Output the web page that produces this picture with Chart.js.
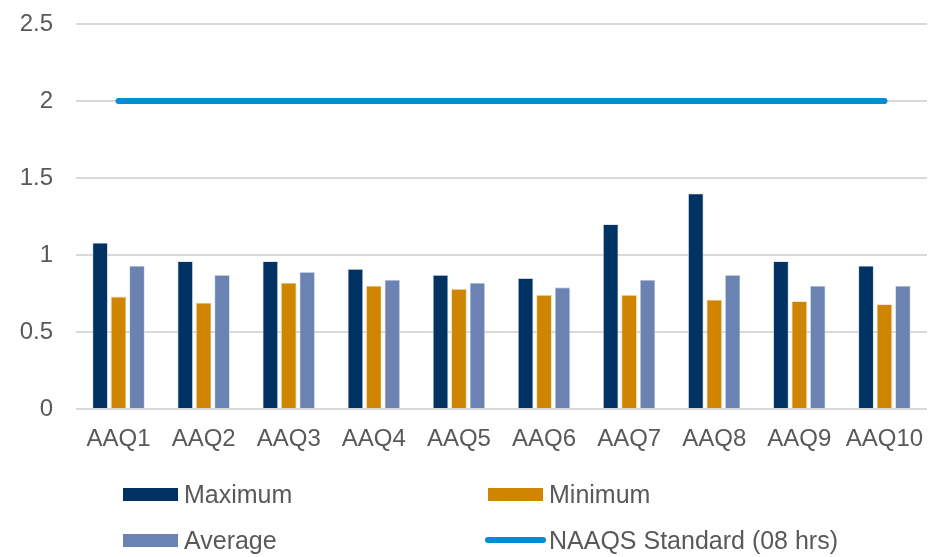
<!DOCTYPE html>
<html>
<head>
<meta charset="utf-8">
<script src="https://cdn.jsdelivr.net/npm/chart.js@4/dist/chart.umd.min.js"></script>
<style>
  html, body { margin: 0; padding: 0; background: #fff; }
  #wrap { position: relative; width: 929px; height: 557px; }
  #c { position: absolute; left: 0; top: 0; }
  .leg { position: absolute; display: flex; align-items: center; font-family: "Liberation Sans", Arial, sans-serif; font-size: 25px; color: #595959; white-space: nowrap; }
  .sw { display: inline-block; }
</style>
</head>
<body>
<div id="wrap">
  <canvas id="c" width="929" height="557"></canvas>
  <div id="legend"></div>
</div>
<script>
const categories = ['AAQ1','AAQ2','AAQ3','AAQ4','AAQ5','AAQ6','AAQ7','AAQ8','AAQ9','AAQ10'];
const maximum = [1.08, 0.96, 0.96, 0.91, 0.87, 0.85, 1.20, 1.40, 0.96, 0.93];
const minimum = [0.73, 0.69, 0.82, 0.80, 0.78, 0.74, 0.74, 0.71, 0.70, 0.68];
const average = [0.93, 0.87, 0.89, 0.84, 0.82, 0.79, 0.84, 0.87, 0.80, 0.80];
const naaqs   = [2, 2, 2, 2, 2, 2, 2, 2, 2, 2];
const yTicks  = [0, 0.5, 1, 1.5, 2, 2.5];

const FONT = '"Liberation Sans", Arial, sans-serif';
const TXT = '#595959';

const chart = new Chart(document.getElementById('c'), {
  data: {
    labels: categories,
    datasets: [
      { type: 'bar', label: 'Maximum', data: maximum, backgroundColor: '#003363', borderColor: '#c9d3e3', borderWidth: 0.8, categoryPercentage: 0.65, barPercentage: 0.84, order: 2 },
      { type: 'bar', label: 'Minimum', data: minimum, backgroundColor: '#D08500', borderColor: '#f0d8a8', borderWidth: 0.8, categoryPercentage: 0.65, barPercentage: 0.84, order: 2 },
      { type: 'bar', label: 'Average', data: average, backgroundColor: '#6B83B3', borderColor: '#d3dbea', borderWidth: 0.8, categoryPercentage: 0.65, barPercentage: 0.84, order: 2 },
      { type: 'line', label: 'NAAQS Standard (08 hrs)', data: naaqs, borderColor: '#008DD6', backgroundColor: '#008DD6', borderWidth: 6, pointRadius: 0, borderCapStyle: 'round', fill: false, order: 1 }
    ]
  },
  options: {
    responsive: false,
    animation: false,
    layout: { autoPadding: false, padding: { top: 24, right: 2, left: 0, bottom: 0 } },
    plugins: { legend: { display: false }, tooltip: { enabled: false } },
    scales: {
      x: {
        grid: { display: false, drawTicks: false },
        border: { display: false },
        ticks: { font: { family: FONT, size: 24 }, color: TXT, padding: 16, maxRotation: 0, autoSkip: false },
        afterFit: (s) => { s.height = 557 - 409; s.paddingLeft = 0; s.paddingRight = 0; }
      },
      y: {
        min: 0, max: 2.5,
        afterBuildTicks: (s) => { s.ticks = yTicks.map(v => ({ value: v })); },
        grid: { color: '#d9d9d9', lineWidth: 2, drawTicks: false },
        border: { display: false },
        ticks: { font: { family: FONT, size: 24 }, color: TXT, padding: 23, callback: (v) => String(v) },
        afterFit: (s) => { s.width = 76; s.paddingTop = 0; s.paddingBottom = 0; }
      }
    }
  }
});

// HTML legend built from the datasets
const legendPos = [
  { left: 123, top: 494 },
  { left: 488, top: 494 },
  { left: 123, top: 540 },
  { left: 485, top: 540 }
];
const legendEl = document.getElementById('legend');
chart.data.datasets.forEach((ds, i) => {
  const item = document.createElement('div');
  item.className = 'leg';
  item.style.left = legendPos[i].left + 'px';
  item.style.top = (legendPos[i].top - 15) + 'px';
  item.style.height = '30px';
  const sw = document.createElement('span');
  sw.className = 'sw';
  if (ds.type === 'line') {
    sw.style.width = '61px'; sw.style.height = '6px'; sw.style.borderRadius = '3px';
    sw.style.background = ds.borderColor; sw.style.marginRight = '3px';
  } else {
    sw.style.width = '55px'; sw.style.height = '13px';
    sw.style.background = ds.backgroundColor; sw.style.marginRight = '6px';
  }
  const t = document.createElement('span');
  t.textContent = ds.label;
  item.appendChild(sw); item.appendChild(t);
  legendEl.appendChild(item);
});
</script>
</body>
</html>
